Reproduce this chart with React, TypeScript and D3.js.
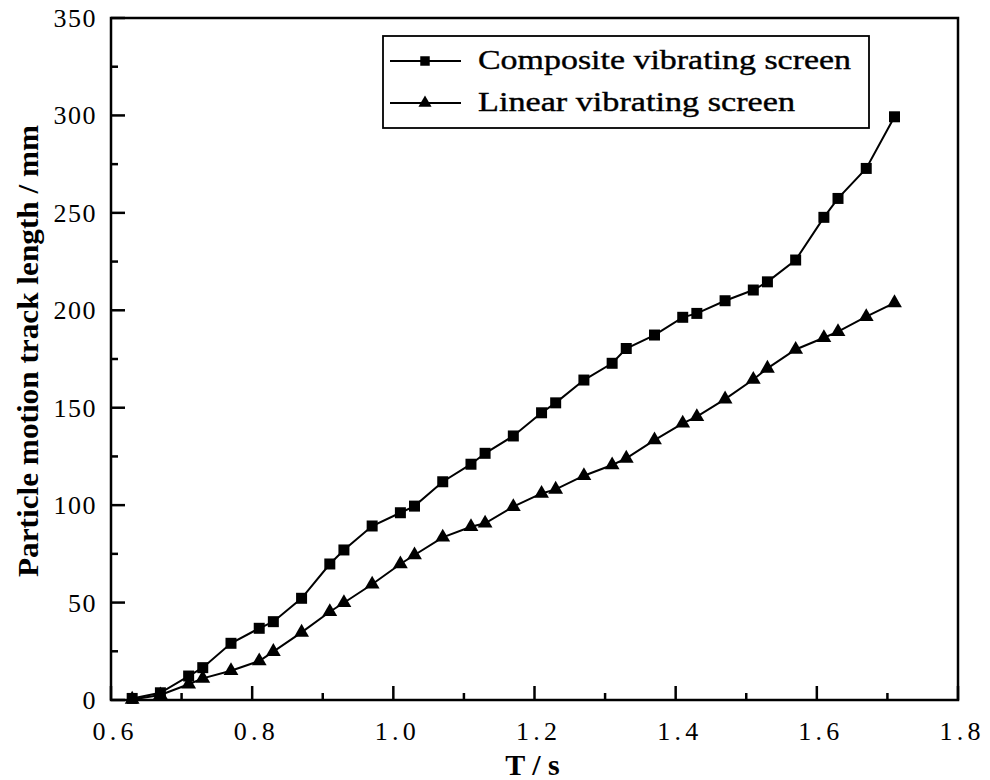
import * as d3 from "d3";
import { useEffect, useRef } from "react";

// T / s sampling instants (shared by both series)
const timeValues = [
  0.63, 0.67, 0.71, 0.73, 0.77, 0.81, 0.83, 0.87, 0.91, 0.93, 0.97, 1.01, 1.03, 1.07, 1.11, 1.13, 1.17,
  1.21, 1.23, 1.27, 1.31, 1.33, 1.37, 1.41, 1.43, 1.47, 1.51, 1.53, 1.57, 1.61, 1.63, 1.67, 1.71,
];

// track length / mm
const compositeValues = [
  0.8, 3.7, 12.3, 16.6, 29.1, 36.8, 40.2, 52.2, 69.8, 77, 89.3, 96.1, 99.5, 112, 121, 126.6, 135.5,
  147.4, 152.5, 164.2, 172.8, 180.4, 187.3, 196.4, 198.4, 204.9, 210.4, 214.6, 225.8, 247.7, 257.4,
  272.8, 299.3,
];
const linearValues = [
  0.3, 2.6, 8.1, 11.1, 15, 20, 24.8, 34.7, 45.3, 49.9, 59.4, 69.8, 74.4, 83.5, 88.9, 90.7, 99.2, 106,
  108.1, 115.1, 120.6, 124, 133.4, 142, 145.4, 154.4, 164.5, 170.2, 179.9, 185.9, 189, 196.7, 203.8,
];

const seriesNames = ["Composite vibrating screen", "Linear vibrating screen"];
const xTicks = [0.6, 0.8, 1.0, 1.2, 1.4, 1.6, 1.8];
const xMinorTicks = [0.7, 0.9, 1.1, 1.3, 1.5, 1.7];
const yTicks = [0, 50, 100, 150, 200, 250, 300, 350];
const yMinorTicks = [25, 75, 125, 175, 225, 275, 325];

const serif = "Liberation Serif";

function drawChart(svgElement: SVGSVGElement) {
  const width = 990;
  const height = 780;
  const plot = { left: 111, right: 958, top: 18, bottom: 700 };
  const svg = d3.select(svgElement);
  svg.selectAll("*").remove();
  svg.attr("viewBox", `0 0 ${width} ${height}`);

  const x = d3.scaleLinear().domain([0.6, 1.8]).range([plot.left, plot.right]);
  const y = d3.scaleLinear().domain([0, 350]).range([plot.bottom, plot.top]);

  const series = [
    { name: seriesNames[0], values: compositeValues, symbol: d3.symbolSquare, size: 121, legendSize: 90 },
    { name: seriesNames[1], values: linearValues, symbol: d3.symbolTriangle, size: 95, legendSize: 75 },
  ];

  const line = d3
    .line<number>()
    .x((_, i) => x(timeValues[i]))
    .y((v) => y(v));

  series.forEach((s) => {
    svg
      .append("path")
      .attr("d", line(s.values))
      .attr("fill", "none")
      .attr("stroke", "#000")
      .attr("stroke-width", 2);

    svg
      .append("g")
      .selectAll("path")
      .data(s.values)
      .join("path")
      .attr("transform", (v, i) => `translate(${x(timeValues[i])},${y(v)})`)
      .attr("d", d3.symbol(s.symbol, s.size)())
      .attr("fill", "#000");
  });

  // ticks pointing inward
  const axisG = svg.append("g").attr("stroke", "#000").attr("stroke-width", 2.5);
  axisG
    .selectAll("line.xmaj")
    .data(xTicks)
    .join("line")
    .attr("x1", (d) => x(d))
    .attr("x2", (d) => x(d))
    .attr("y1", plot.bottom)
    .attr("y2", plot.bottom - 14);
  axisG
    .selectAll("line.xmin")
    .data(xMinorTicks)
    .join("line")
    .attr("x1", (d) => x(d))
    .attr("x2", (d) => x(d))
    .attr("y1", plot.bottom)
    .attr("y2", plot.bottom - 7);
  axisG
    .selectAll("line.ymaj")
    .data(yTicks)
    .join("line")
    .attr("x1", plot.left)
    .attr("x2", plot.left + 14)
    .attr("y1", (d) => y(d))
    .attr("y2", (d) => y(d));
  axisG
    .selectAll("line.ymin")
    .data(yMinorTicks)
    .join("line")
    .attr("x1", plot.left)
    .attr("x2", plot.left + 7)
    .attr("y1", (d) => y(d))
    .attr("y2", (d) => y(d));

  svg
    .append("rect")
    .attr("x", plot.left)
    .attr("y", plot.top)
    .attr("width", plot.right - plot.left)
    .attr("height", plot.bottom - plot.top)
    .attr("fill", "none")
    .attr("stroke", "#000")
    .attr("stroke-width", 2.5);

  // tick labels
  svg
    .append("g")
    .selectAll("text")
    .data(xTicks)
    .join("text")
    .attr("x", (d) => x(d) + 2)
    .attr("y", 740)
    .attr("text-anchor", "middle")
    .attr("font-family", serif)
    .attr("font-size", 26)
    .attr("textLength", 41)
    .attr("lengthAdjust", "spacing")
    .text((d) => d.toFixed(1));

  svg
    .append("g")
    .selectAll("text")
    .data(yTicks)
    .join("text")
    .attr("x", 97)
    .attr("y", (d) => y(d) + 9)
    .attr("text-anchor", "end")
    .attr("font-family", serif)
    .attr("font-size", 26)
    .attr("letter-spacing", 1.5)
    .text((d) => String(d));

  // axis titles
  svg
    .append("text")
    .attr("x", (plot.left + plot.right) / 2 - 2)
    .attr("y", 775)
    .attr("text-anchor", "middle")
    .attr("font-family", serif)
    .attr("font-weight", "bold")
    .attr("font-size", 30)
    .text("T / s");

  svg
    .append("text")
    .attr("transform", "translate(38,351) rotate(-90)")
    .attr("text-anchor", "middle")
    .attr("font-family", serif)
    .attr("font-weight", "bold")
    .attr("font-size", 30)
    .attr("textLength", 452)
    .attr("lengthAdjust", "spacingAndGlyphs")
    .text("Particle motion track length / mm");

  // legend
  const legend = svg.append("g");
  legend
    .append("rect")
    .attr("x", 383)
    .attr("y", 36)
    .attr("width", 486)
    .attr("height", 92)
    .attr("fill", "#fff")
    .attr("stroke", "#000")
    .attr("stroke-width", 1.8);

  const rowY = [61, 103];
  const textLengths = [373, 317];
  series.forEach((s, i) => {
    legend
      .append("line")
      .attr("x1", 390)
      .attr("x2", 461)
      .attr("y1", rowY[i])
      .attr("y2", rowY[i])
      .attr("stroke", "#000")
      .attr("stroke-width", 2);
    legend
      .append("path")
      .attr("transform", `translate(425,${rowY[i]})`)
      .attr("d", d3.symbol(s.symbol, s.legendSize)())
      .attr("fill", "#000");
    legend
      .append("text")
      .attr("x", 478)
      .attr("y", rowY[i] + 8)
      .attr("font-family", serif)
      .attr("font-size", 28)
      .attr("stroke", "#000")
      .attr("stroke-width", 0.4)
      .attr("textLength", textLengths[i])
      .attr("lengthAdjust", "spacingAndGlyphs")
      .text(s.name);
  });
}

export default function App() {
  const svgRef = useRef<SVGSVGElement>(null);

  useEffect(() => {
    if (svgRef.current) drawChart(svgRef.current);
  }, []);

  return (
    <svg
      ref={svgRef}
      width={990}
      height={780}
      style={{ position: "absolute", left: 0, top: 0, background: "#fff" }}
      role="img"
      aria-label="Particle motion track length vs T"
    />
  );
}
